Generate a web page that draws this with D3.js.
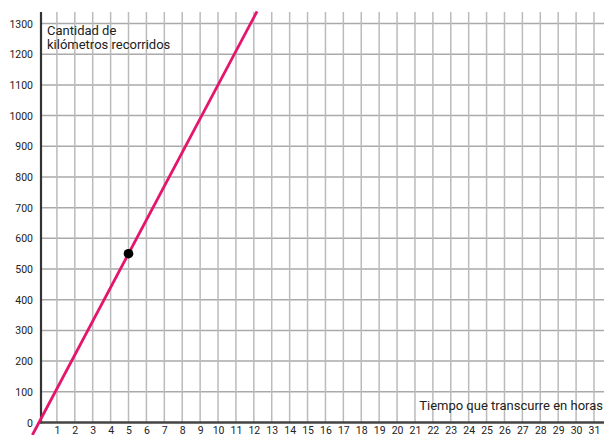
<!DOCTYPE html>
<html>
<head>
<meta charset="utf-8">
<script src="https://cdn.jsdelivr.net/npm/d3@7"></script>
<style>
  body { margin: 0; background: #fff; }
  text { font-family: Roboto, "Liberation Sans", sans-serif; fill: #222; }
</style>
</head>
<body>
<div id="chart"></div>
<script>
// axis ticks
var hours = d3.range(1, 32);           // 1..31
var kms = d3.range(0, 1400, 100);      // 0..1300

// line: distance = speed * hours, drawn slightly past the frame
var speed = 110;
var lineHours = [-0.37, 12.18];
var marked = [{ h: 5, km: 550 }];

var W = 606, H = 435;

var x = d3.scaleLinear().domain([0, 31]).range([39, 594]);
var y = d3.scaleLinear().domain([0, 1300]).range([422.5, 23.5]);

var svg = d3.select("#chart").append("svg")
  .attr("width", W)
  .attr("height", H);

// horizontal grid
svg.append("g").selectAll("line").data(kms.slice(1)).enter().append("line")
  .attr("x1", 41).attr("x2", 604)
  .attr("y1", function(d){ return y(d); })
  .attr("y2", function(d){ return y(d); })
  .attr("stroke", "#aaa")
  .attr("stroke-width", 1.5);

// vertical grid
svg.append("g").selectAll("line").data(hours).enter().append("line")
  .attr("x1", function(d){ return x(d); })
  .attr("x2", function(d){ return x(d); })
  .attr("y1", 12).attr("y2", y(0))
  .attr("stroke", "#bbb")
  .attr("stroke-width", 1.5);

// axes
svg.append("line")
  .attr("x1", 41).attr("x2", 41)
  .attr("y1", 12).attr("y2", y(0) + 1)
  .attr("stroke", "#333").attr("stroke-width", 2.2);
svg.append("line")
  .attr("x1", 40).attr("x2", 604)
  .attr("y1", y(0)).attr("y2", y(0))
  .attr("stroke", "#444").attr("stroke-width", 2.5);

// y labels
svg.append("g").selectAll("text").data(kms).enter().append("text")
  .attr("x", 33)
  .attr("y", function(d){ return y(d) + 4; })
  .attr("text-anchor", "end")
  .style("font-size", "10.5px")
  .text(function(d){ return d; });

// x labels
svg.append("g").selectAll("text").data(hours).enter().append("text")
  .attr("x", function(d){ return x(d) + 0.5; })
  .attr("y", 433.5)
  .attr("text-anchor", "middle")
  .style("font-size", "10.5px")
  .text(function(d){ return d; });

// titles
var t = svg.append("text").attr("x", 47).attr("y", 35).style("font-size", "13px");
t.append("tspan").attr("x", 47).text("Cantidad de");
t.append("tspan").attr("x", 47).attr("dy", 14).text("kilómetros recorridos");

svg.append("text")
  .attr("x", 603).attr("y", 410)
  .attr("text-anchor", "end")
  .style("font-size", "13px")
  .text("Tiempo que transcurre en horas");

// the line
var line = d3.line()
  .x(function(d){ return x(d); })
  .y(function(d){ return y(d * speed); });

svg.append("path")
  .datum(lineHours)
  .attr("d", line)
  .attr("fill", "none")
  .attr("stroke", "#e5156b")
  .attr("stroke-width", 2.8);

svg.selectAll("circle").data(marked).enter().append("circle")
  .attr("cx", function(d){ return x(d.h); })
  .attr("cy", function(d){ return y(d.km); })
  .attr("r", 4.8)
  .attr("fill", "#000");
</script>
</body>
</html>
